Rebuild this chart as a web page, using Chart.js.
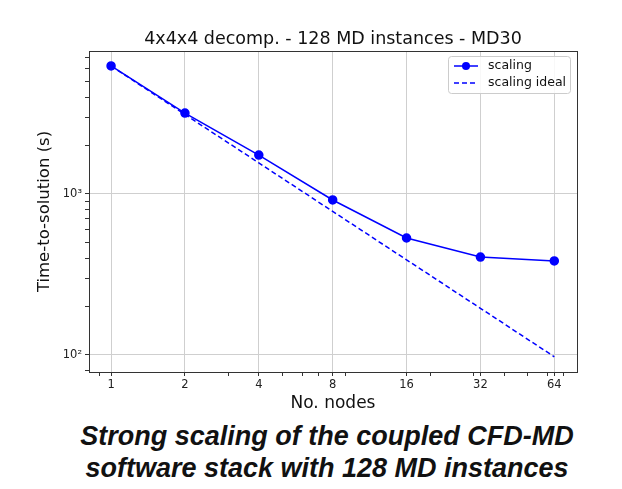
<!DOCTYPE html>
<html>
<head>
<meta charset="utf-8">
<script src="https://cdn.jsdelivr.net/npm/chart.js@4"></script>
<style>
  body { margin: 0; background: #fff; }
  #wrap { position: relative; width: 622px; height: 489px; overflow: hidden; }
  #chartBox { position: absolute; left: 0; top: 0; width: 622px; height: 415px; }
  #caption {
    position: absolute; left: 0; top: 420px; width: 622px; padding-left: 32px; box-sizing: border-box;
    text-align: center; font-family: "Liberation Sans", Arial, sans-serif;
    font-weight: bold; font-style: italic; font-size: 27px; line-height: 32px; color: #111;
  }
</style>
</head>
<body>
<div id="wrap">
  <div id="chartBox"><canvas id="chart"></canvas></div>
  <div id="caption">Strong scaling of the coupled CFD-MD<br>software stack with 128 MD instances</div>
</div>
<script>
// data
const nodes = [1, 2, 4, 8, 16, 32, 64];
const timeScaling = [6240, 3180, 1745, 918, 533, 406, 384];
const timeIdeal = [6240, 3120, 1560, 780, 390, 195, 97.5];

// axis ticks (matplotlib style log axes)
const xMajorTicks = [1, 2, 4, 8, 16, 32, 64];
const xMinorTicks = [0.9, 3, 5, 6, 7, 9, 20, 30, 40, 50, 60, 70];
const yMajorTicks = [100, 1000];
const yMinorTicks = [80, 200, 300, 400, 500, 600, 700, 800, 900, 2000, 3000, 4000, 5000, 6000, 7000];
const yMajorLabels = ['10\u00b2', '10\u00b3'];

const chartTitle = '4x4x4 decomp. - 128 MD instances - MD30';
const blue = '#0000ff';
const mplFont = 'DejaVu Sans';

function allTicks(major, minor) {
    return major.concat(minor).sort((a, b) => a - b).map(v => ({ value: v, major: major.includes(v) }));
}

function gridColor(major) {
    return ctx => (ctx.tick && major.includes(ctx.tick.value)) ? '#cfcfcf' : 'rgba(0,0,0,0)';
}

/**
 * Frame, title and legend drawn the matplotlib way
 */
const mplDecor = {
    id: 'mplDecor',
    afterDraw(chart) {
        const { ctx, chartArea: a } = chart;
        ctx.save();
        ctx.strokeStyle = '#333';
        ctx.lineWidth = 1;
        ctx.strokeRect(a.left + 0.5, a.top + 0.5, a.right - a.left, a.bottom - a.top);

        ctx.fillStyle = '#111';
        ctx.font = `17.5px "${mplFont}"`;
        ctx.textAlign = 'center';
        ctx.textBaseline = 'alphabetic';
        ctx.fillText(chartTitle, (a.left + a.right) / 2, a.top - 7);

        // legend box in the upper right corner
        const bx = a.right - 129, by = a.top + 5, bw = 122, bh = 37;
        ctx.fillStyle = 'rgba(255,255,255,0.85)';
        ctx.strokeStyle = '#cccccc';
        ctx.beginPath();
        ctx.roundRect(bx + 0.5, by + 0.5, bw, bh, 3);
        ctx.fill();
        ctx.stroke();
        chart.data.datasets.forEach((ds, i) => {
            const y = by + 10 + i * 17;
            ctx.strokeStyle = ds.borderColor;
            ctx.lineWidth = 1.5;
            ctx.setLineDash(ds.borderDash || []);
            ctx.beginPath();
            ctx.moveTo(bx + 6, y);
            ctx.lineTo(bx + 30, y);
            ctx.stroke();
            ctx.setLineDash([]);
            if (ds.pointRadius > 0) {
                ctx.fillStyle = ds.borderColor;
                ctx.beginPath();
                ctx.arc(bx + 18, y, ds.pointRadius, 0, Math.PI * 2);
                ctx.fill();
            }
            ctx.fillStyle = '#111';
            ctx.font = `12.5px "${mplFont}"`;
            ctx.textAlign = 'left';
            ctx.textBaseline = 'middle';
            ctx.fillText(ds.label, bx + 40, y);
        });
        ctx.restore();
    }
};

new Chart(document.getElementById('chart'), {
    type: 'line',
    data: {
        datasets: [{
            label: 'scaling',
            data: nodes.map((n, i) => ({ x: n, y: timeScaling[i] })),
            borderColor: blue,
            backgroundColor: blue,
            borderWidth: 1.5,
            pointRadius: 4,
            pointHoverRadius: 4
        }, {
            label: 'scaling ideal',
            data: nodes.map((n, i) => ({ x: n, y: timeIdeal[i] })),
            borderColor: blue,
            backgroundColor: blue,
            borderWidth: 1.5,
            borderDash: [5, 3],
            pointRadius: 0
        }]
    },
    options: {
        responsive: true,
        maintainAspectRatio: false,
        animation: false,
        layout: { padding: { left: 35, top: 51, right: 45, bottom: 0 } },
        plugins: {
            legend: { display: false },
            title: { display: false },
            tooltip: { enabled: false }
        },
        scales: {
            x: {
                type: 'logarithmic',
                min: 0.813,
                max: 79.2,
                afterBuildTicks: s => { s.ticks = allTicks(xMajorTicks, xMinorTicks); },
                afterFit: s => { s.height = 43; },
                grid: { color: gridColor(xMajorTicks), tickColor: '#333', tickLength: 4, lineWidth: 1 },
                border: { color: '#333' },
                ticks: {
                    autoSkip: false,
                    maxRotation: 0,
                    padding: 2,
                    color: '#222',
                    font: { family: mplFont, size: 11.5 },
                    callback: v => xMajorTicks.includes(v) ? String(v) : ''
                },
                title: {
                    display: true,
                    text: 'No. nodes',
                    color: '#111',
                    font: { family: mplFont, size: 17 },
                    padding: { top: 0, bottom: 1 }
                }
            },
            y: {
                type: 'logarithmic',
                min: 78.4,
                max: 7730,
                afterBuildTicks: s => { s.ticks = allTicks(yMajorTicks, yMinorTicks); },
                afterFit: s => { s.width = 54; },
                grid: { color: gridColor(yMajorTicks), tickColor: '#333', tickLength: 4, lineWidth: 1 },
                border: { color: '#333' },
                ticks: {
                    autoSkip: false,
                    padding: 3,
                    color: '#222',
                    font: { family: mplFont, size: 11.5 },
                    callback: v => {
                        const i = yMajorTicks.indexOf(v);
                        return i >= 0 ? yMajorLabels[i] : '';
                    }
                },
                title: {
                    display: true,
                    text: 'Time-to-solution (s)',
                    color: '#111',
                    font: { family: mplFont, size: 16.5 },
                    padding: { top: 0, bottom: 4 }
                }
            }
        }
    },
    plugins: [mplDecor]
});
</script>
</body>
</html>
